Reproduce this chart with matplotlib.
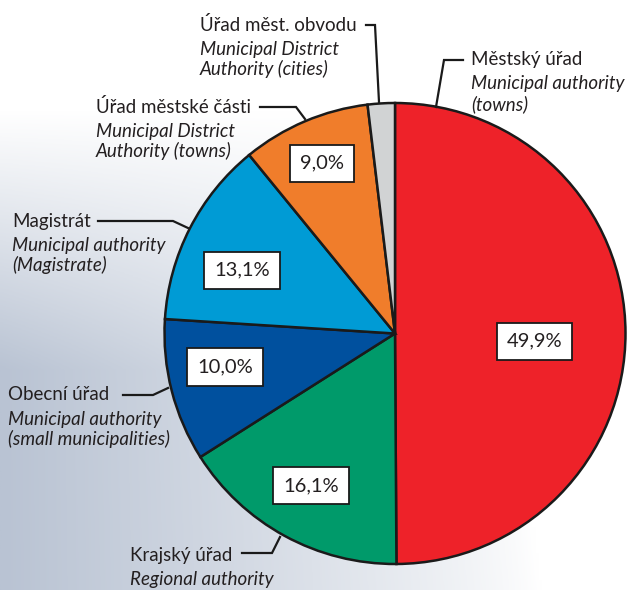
import numpy as np
import matplotlib
matplotlib.use("Agg")
import matplotlib.pyplot as plt

# slice data (clockwise from 12 o'clock)
shares = [49.9, 16.1, 10.0, 13.1, 9.0, 1.9]
pct_labels = ["49,9%", "16,1%", "10,0%", "13,1%", "9,0%", None]
cz_names = ["Městský úřad", "Krajský úřad", "Obecní úřad", "Magistrát",
            "Úřad městské části", "Úřad měst. obvodu"]
en_names = ["Municipal authority\n(towns)", "Regional authority",
            "Municipal authority\n(small municipalities)",
            "Municipal authority\n(Magistrate)",
            "Municipal District\nAuthority (towns)",
            "Municipal District\nAuthority (cities)"]
colors = ["#ee2229", "#009a6a", "#00509e", "#009bd5", "#f07d2b", "#d1d3d4"]

W, H = 632, 590
plt.rcParams['font.family'] = ['Lato', 'DejaVu Sans']
txt_col = "#231f20"

fig = plt.figure(figsize=(W / 100, H / 100), dpi=100)

# background: blue-grey fading to white towards top/right
bg = fig.add_axes([0, 0, 1, 1])
xx, yy = np.meshgrid(np.linspace(0, W, 200), np.linspace(0, H, 200))
fy = np.clip((yy - 110) / 260, 0, 1)
fx = np.clip(1 - xx / (470 + 0.12 * yy), 0, 1) ** 0.8
k = (fy * fx)[..., None]
c0 = np.array([1.0, 1.0, 1.0])
c1 = np.array([185, 195, 211]) / 255
img = c0 * (1 - k) + c1 * k
bg.imshow(img, extent=[0, W, H, 0], aspect='auto')
bg.axis('off')

ax = fig.add_axes([0, 0, 1, 1])
ax.patch.set_alpha(0)


def py(y):
    # pixel row -> data y
    return H - y


cx, cy, R = 395, py(333.5), 230.5
wedges, _ = ax.pie(shares, colors=colors, startangle=90, counterclock=False,
                   center=(cx, cy), radius=R,
                   wedgeprops=dict(edgecolor="#1a1a1a", linewidth=1.8))

# percentage boxes: radial fraction and angle nudge per slice
pct_r = [0.606, 0.748, 0.749, 0.72, 0.81, 0]
pct_da = [-2.7, -0.5, -3.7, 4.2, 0, 0]
for w, lab, f, da in zip(wedges, pct_labels, pct_r, pct_da):
    if lab is None:
        continue
    a = np.deg2rad((w.theta1 + w.theta2) / 2 + da)
    ax.text(cx + R * f * np.cos(a), cy + R * f * np.sin(a), lab,
            ha='center', va='center_baseline', fontsize=14.5, color=txt_col,
            bbox=dict(boxstyle='square,pad=0.5', fc='white', ec='#1a1a1a', lw=1.3))

# category labels: (text x, first-line y, leader line points)
label_pos = [
    (471, 60, [(463, 60), (444, 60), (436, 107)]),
    (130, 555, [(242, 553), (272, 553), (280, 537)]),
    (8, 395, [(123, 395), (153, 395), (168, 388)]),
    (12, 221, [(98, 221), (173, 221), (188, 228)]),
    (96, 107, [(260, 107), (296, 107), (305, 119)]),
    (200, 25, [(366, 25), (375, 25), (379, 102)]),
]
for cz, en, (tx, ty, pts) in zip(cz_names, en_names, label_pos):
    ax.text(tx, py(ty), cz, ha='left', va='center', fontsize=13.5, color=txt_col)
    for i, line in enumerate(en.split('\n')):
        ax.text(tx, py(ty + 24 + 20 * i), line, ha='left', va='center',
                fontsize=13.5, style='italic', color=txt_col)
    xs = [p[0] for p in pts]
    ys = [py(p[1]) for p in pts]
    ax.plot(xs, ys, color="#1a1a1a", lw=1.6, solid_joinstyle='miter')

ax.set_xlim(0, W)
ax.set_ylim(0, H)
ax.set_aspect('auto')
ax.axis('off')

fig.savefig("out.png", dpi=100)
